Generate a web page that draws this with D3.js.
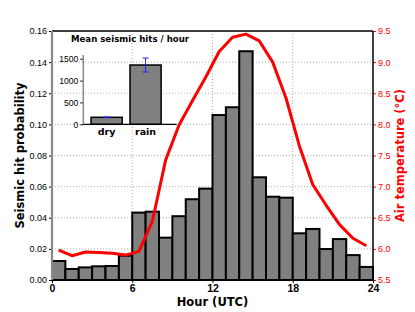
<!DOCTYPE html>
<html>
<head>
<meta charset="utf-8">
<script src="https://cdn.jsdelivr.net/npm/d3@7"></script>
<style>
  body { margin: 0; background: #fff; }
  svg { display: block; font-family: "DejaVu Sans", sans-serif; }
</style>
</head>
<body>
<div id="chart"></div>
<script>
// hourly bins (UTC) and the values
const hours = [0,1,2,3,4,5,6,7,8,9,10,11,12,13,14,15,16,17,18,19,20,21,22,23];
const hitProb = [0.0122, 0.0071, 0.0081, 0.0088, 0.0090, 0.0156, 0.0433, 0.0439,
                 0.0272, 0.0410, 0.0519, 0.0587, 0.1060, 0.1110, 0.1470, 0.0660,
                 0.0535, 0.0529, 0.0300, 0.0328, 0.0199, 0.0263, 0.0160, 0.0084];
const airTemp = [5.98, 5.89, 5.95, 5.94, 5.93, 5.90, 5.96, 6.44, 7.43, 7.99, 8.38, 8.76,
                 9.17, 9.40, 9.45, 9.34, 9.00, 8.42, 7.65, 7.03, 6.70, 6.39, 6.17, 6.05];
const xTicks = [0, 6, 12, 18, 24];
const yTicks = [0, 0.02, 0.04, 0.06, 0.08, 0.10, 0.12, 0.14, 0.16];
const tTicks = [5.5, 6.0, 6.5, 7.0, 7.5, 8.0, 8.5, 9.0, 9.5];

// inset: mean hits per hour
const insetCats = ["dry", "rain"];
const insetMeans = [160, 1356];
const insetErr = [8, 160];
const insetTicks = [0, 500, 1000, 1500];

const width = 415, height = 312;
const margin = {top: 31, right: 42, bottom: 32, left: 52};
const innerW = width - margin.left - margin.right;
const innerH = height - margin.top - margin.bottom;

const svg = d3.select("#chart").append("svg")
  .attr("width", width).attr("height", height);
const g = svg.append("g").attr("transform", `translate(${margin.left},${margin.top})`);

const x = d3.scaleLinear().domain([0, 24]).range([0, innerW]);
const y = d3.scaleLinear().domain([0, 0.16]).range([innerH, 0]);
const yT = d3.scaleLinear().domain([5.5, 9.5]).range([innerH, 0]);

// grid
g.append("g").selectAll("line").data(yTicks.slice(1, -1)).join("line")
  .attr("x1", 0).attr("x2", innerW)
  .attr("y1", d => y(d)).attr("y2", d => y(d))
  .attr("stroke", "#9a9a9a").attr("stroke-width", 0.8).attr("stroke-dasharray", "1,2");
g.append("g").selectAll("line").data(xTicks.slice(1, -1)).join("line")
  .attr("y1", 0).attr("y2", innerH)
  .attr("x1", d => x(d)).attr("x2", d => x(d))
  .attr("stroke", "#9a9a9a").attr("stroke-width", 0.8).attr("stroke-dasharray", "1,2");

// bars
g.append("g").selectAll("rect").data(hours).join("rect")
  .attr("x", d => x(d))
  .attr("y", (d, i) => y(hitProb[i]))
  .attr("width", x(1) - x(0))
  .attr("height", (d, i) => innerH - y(hitProb[i]))
  .attr("fill", "#808080")
  .attr("stroke", "#000")
  .attr("stroke-width", 2);

// temperature line
const line = d3.line()
  .x((d, i) => x(hours[i] + 0.5))
  .y(d => yT(d));
g.append("path").datum(airTemp)
  .attr("d", line)
  .attr("fill", "none")
  .attr("stroke", "#ff0000")
  .attr("stroke-width", 3)
  .attr("stroke-linejoin", "round");

// axes
const yAxis = g.append("g")
  .call(d3.axisLeft(y).tickValues(yTicks).tickFormat(d3.format(".2f")).tickSize(3).tickPadding(2));
yAxis.select(".domain").remove();
yAxis.selectAll("text").attr("font-size", 9).attr("fill", "#000");
yAxis.selectAll("line").attr("stroke", "#000");

const tAxis = g.append("g").attr("transform", `translate(${innerW},0)`)
  .call(d3.axisRight(yT).tickValues(tTicks).tickFormat(d3.format(".1f")).tickSize(3).tickPadding(2));
tAxis.select(".domain").remove();
tAxis.selectAll("text").attr("font-size", 9).attr("fill", "#ff0000");
tAxis.selectAll("line").attr("stroke", "#ff0000");

const xAxis = g.append("g").attr("transform", `translate(0,${innerH})`)
  .call(d3.axisBottom(x).tickValues(xTicks).tickFormat(d3.format("d")).tickSize(3).tickPadding(2));
xAxis.select(".domain").remove();
xAxis.selectAll("text").attr("font-size", 10.5).attr("font-weight", "bold").attr("fill", "#000");

// spines
g.append("line").attr("x1", 0).attr("x2", innerW).attr("y1", 0).attr("y2", 0)
  .attr("stroke", "#000").attr("stroke-width", 1.5);
g.append("line").attr("x1", 0).attr("x2", innerW).attr("y1", innerH).attr("y2", innerH)
  .attr("stroke", "#000").attr("stroke-width", 1.5);
g.append("line").attr("x1", innerW).attr("x2", innerW).attr("y1", 0).attr("y2", innerH)
  .attr("stroke", "#000").attr("stroke-width", 1.5);
g.append("line").attr("x1", 0).attr("x2", 0).attr("y1", 0).attr("y2", innerH)
  .attr("stroke", "#888").attr("stroke-width", 2.2);

// axis labels
svg.append("text")
  .attr("x", margin.left + innerW / 2).attr("y", 306)
  .attr("text-anchor", "middle").attr("font-size", 11.5).attr("font-weight", "bold")
  .text("Hour (UTC)");
svg.append("text")
  .attr("transform", `translate(24,${margin.top + innerH / 2}) rotate(-90)`)
  .attr("text-anchor", "middle").attr("font-size", 11.5).attr("font-weight", "bold")
  .text("Seismic hit probability");
svg.append("text")
  .attr("transform", `translate(404,${margin.top + innerH / 2}) rotate(-90)`)
  .attr("text-anchor", "middle").attr("font-size", 11.5).attr("font-weight", "bold")
  .attr("fill", "#ff0000")
  .text("Air temperature (°C)");

// inset
const inset = {left: 83.3, right: 176.7, top: 55, bottom: 124.3};
const ix = d3.scaleLinear().domain([-0.6, 1.8]).range([inset.left, inset.right]);
const iy = d3.scaleLinear().domain([0, 1585]).range([inset.bottom, inset.top]);
const ig = svg.append("g");

ig.append("text")
  .attr("x", 130).attr("y", 41.8)
  .attr("text-anchor", "middle").attr("font-size", 8.6).attr("font-weight", "bold")
  .text("Mean seismic hits / hour");

ig.selectAll("rect").data(insetCats).join("rect")
  .attr("x", (d, i) => ix(i - 0.4))
  .attr("width", ix(0.4) - ix(-0.4))
  .attr("y", (d, i) => iy(insetMeans[i]))
  .attr("height", (d, i) => iy(0) - iy(insetMeans[i]))
  .attr("fill", "#808080").attr("stroke", "#000").attr("stroke-width", 1.5);

// error bars
const err = ig.append("g").attr("stroke", "#2222ff").attr("stroke-width", 1);
insetCats.forEach((c, i) => {
  const cx = ix(i), y1 = iy(insetMeans[i] - insetErr[i]), y2 = iy(insetMeans[i] + insetErr[i]);
  err.append("line").attr("x1", cx).attr("x2", cx).attr("y1", y1).attr("y2", y2);
  err.append("line").attr("x1", cx - 3).attr("x2", cx + 3).attr("y1", y1).attr("y2", y1);
  err.append("line").attr("x1", cx - 3).attr("x2", cx + 3).attr("y1", y2).attr("y2", y2);
});

const iyAxis = ig.append("g").attr("transform", `translate(${inset.left},0)`)
  .call(d3.axisLeft(iy).tickValues(insetTicks).tickFormat(d3.format("d")).tickSize(3).tickPadding(2));
iyAxis.select(".domain").remove();
iyAxis.selectAll("text").attr("font-size", 8.6).attr("fill", "#000");
iyAxis.selectAll("line").attr("stroke", "#000");

ig.selectAll(".cat").data(insetCats).join("text")
  .attr("class", "cat")
  .attr("x", (d, i) => ix(i)).attr("y", 134.5)
  .attr("text-anchor", "middle").attr("font-size", 9.5).attr("font-weight", "bold")
  .text(d => d);

ig.append("line").attr("x1", inset.left).attr("x2", inset.right)
  .attr("y1", inset.bottom).attr("y2", inset.bottom)
  .attr("stroke", "#000").attr("stroke-width", 1.2);
ig.append("line").attr("x1", inset.left).attr("x2", inset.left)
  .attr("y1", inset.top).attr("y2", inset.bottom)
  .attr("stroke", "#888").attr("stroke-width", 1.5);
</script>
</body>
</html>
